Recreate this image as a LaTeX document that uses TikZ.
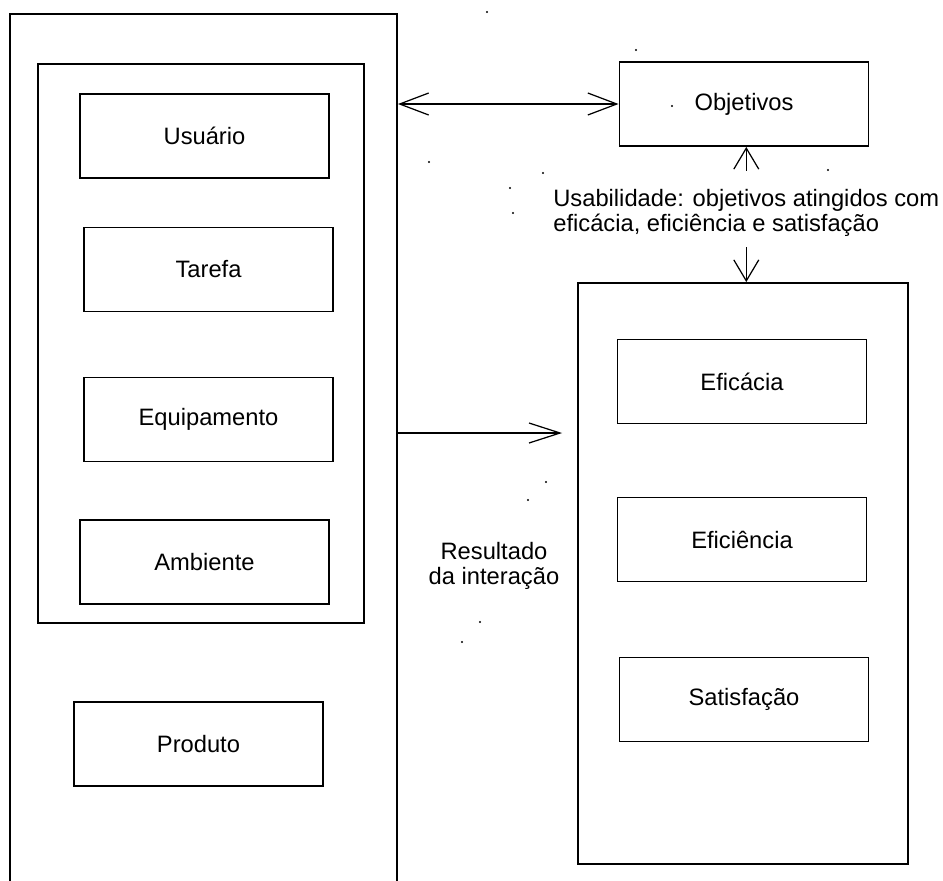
\documentclass[tikz,border=0pt]{standalone}
\usepackage{fontspec}
\setmainfont{Liberation Sans}
\usetikzlibrary{arrows.meta, positioning}

\begin{document}
\begin{tikzpicture}[x=0.02cm, y=-0.02cm, every node/.style={font=\fontsize{13.5}{14.2}\selectfont},
    moldura/.style={draw, line width=1.1pt, inner sep=0pt},
    caixa/.style={moldura, minimum width=249*0.02cm, minimum height=84*0.02cm},
    seta/.style={line width=0.7pt, {Straight Barb[length=0.58cm,width=0.44cm]}-{Straight Barb[length=0.58cm,width=0.44cm]}},
    setav/.style={line width=0.7pt, -{Straight Barb[length=0.42cm,width=0.5cm]}}]

    \useasboundingbox (0,0) rectangle (943,880);
    \clip (0,0) rectangle (943,880);

    % left column
    \node[moldura, minimum width=387*0.02cm, minimum height=886*0.02cm] (sistema) at (203.5,457) {};
    \node[moldura, minimum width=326*0.02cm, minimum height=559*0.02cm] (contexto) at (201,343.5) {};

    \foreach \nome/\txt/\cx/\cy in {usuario/Usuário/204.5/136, tarefa/Tarefa/208.5/269.5,
        equipamento/Equipamento/208.5/419.5, ambiente/Ambiente/204.5/562, produto/Produto/198.5/744}
    \node[caixa] (\nome) at (\cx,\cy) {\txt};

    % right column
    \node[caixa] (objetivos) at (744,104) {Objetivos};
    \node[moldura, minimum width=330*0.02cm, minimum height=581*0.02cm] (resultado) at (743,573.5) {};

    \foreach \nome/\txt/\cx/\cy in {eficacia/Eficácia/742/381.5, eficiencia/Eficiência/742/539.5,
        satisfacao/Satisfação/744/699.5}
    \node[caixa] (\nome) at (\cx,\cy) {\txt};

    \node[align=left, anchor=west, inner xsep=0pt, inner ysep=0.22cm] (usabilidade) at (553,212.5)
        {Usabilidade: objetivos atingidos com\\eficácia, eficiência e satisfação};
    \node[align=center] (interacao) at (494,566) {Resultado\\da interação};

    % connectors
    \draw[seta] (objetivos.west -| sistema.east) -- (objetivos.west);
    \draw[setav, shorten <=0.14cm] (usabilidade.north) -- (usabilidade.north |- objetivos.south);
    \draw[setav] (usabilidade.south) -- (usabilidade.south |- resultado.north);
    \coordinate (saida) at (397,433);
    \draw[setav, shorten >=0.3cm, -{Straight Barb[length=0.62cm,width=0.4cm]}] (saida) -- (saida -| resultado.west);

    % stray dots
    \foreach \x/\y in {487/12, 636/50, 672/106, 429/162, 543/173, 828/170, 510/188, 513/213,
        546/482, 528/500, 480/622, 462/642}
    \fill (\x,\y) circle (0.022cm);

\end{tikzpicture}
\end{document}
